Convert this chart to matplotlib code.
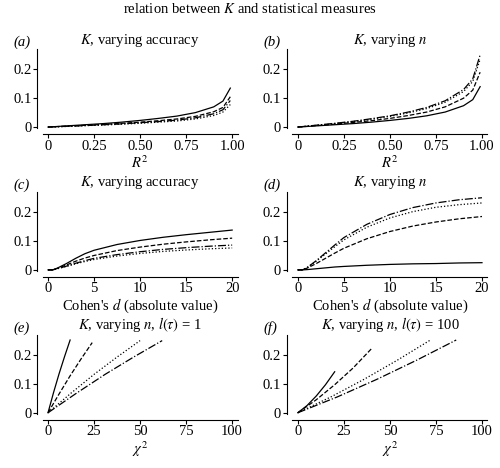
import numpy as np
import matplotlib.pyplot as plt

plt.rcParams['font.family'] = 'Liberation Serif'
plt.rcParams['mathtext.fontset'] = 'stix'
plt.rcParams['font.size'] = 10.5

styles = ['-', '--', ':', '-.']

# panel a: R^2, varying accuracy
r2 = [0, 0.1, 0.2, 0.3, 0.4, 0.5, 0.6, 0.7, 0.8, 0.9, 0.95, 0.99]
a_vals = [
    [0, 0.004, 0.008, 0.012, 0.017, 0.023, 0.030, 0.038, 0.050, 0.070, 0.090, 0.135],
    [0, 0.003, 0.006, 0.009, 0.013, 0.017, 0.022, 0.028, 0.037, 0.053, 0.068, 0.105],
    [0, 0.002, 0.005, 0.007, 0.010, 0.013, 0.017, 0.021, 0.028, 0.040, 0.052, 0.078],
    [0, 0.0025, 0.005, 0.008, 0.011, 0.015, 0.019, 0.024, 0.032, 0.046, 0.060, 0.092],
]
# panel b: R^2, varying n
b_vals = [
    [0, 0.004, 0.008, 0.012, 0.017, 0.023, 0.030, 0.039, 0.052, 0.074, 0.095, 0.140],
    [0, 0.005, 0.010, 0.016, 0.022, 0.030, 0.040, 0.052, 0.070, 0.100, 0.128, 0.190],
    [0, 0.006, 0.012, 0.019, 0.027, 0.037, 0.049, 0.064, 0.086, 0.123, 0.158, 0.235],
    [0, 0.0065, 0.013, 0.020, 0.029, 0.039, 0.052, 0.068, 0.091, 0.130, 0.167, 0.250],
]
# panels c, d: Cohen's d
cd = [0, 0.5, 1, 2, 3, 4, 5, 7.5, 10, 12.5, 15, 17.5, 20]
c_vals = [
    [0, 0, 0.006, 0.022, 0.040, 0.056, 0.068, 0.088, 0.102, 0.113, 0.122, 0.130, 0.138],
    [0, 0, 0.005, 0.017, 0.030, 0.041, 0.050, 0.067, 0.079, 0.089, 0.097, 0.104, 0.110],
    [0, 0, 0.004, 0.012, 0.021, 0.029, 0.036, 0.048, 0.057, 0.064, 0.069, 0.073, 0.076],
    [0, 0, 0.004, 0.013, 0.023, 0.032, 0.040, 0.053, 0.063, 0.071, 0.077, 0.082, 0.086],
]
d_vals = [
    [0, 0, 0.001, 0.004, 0.007, 0.010, 0.012, 0.016, 0.019, 0.021, 0.022, 0.024, 0.025],
    [0, 0, 0.006, 0.022, 0.040, 0.058, 0.075, 0.108, 0.133, 0.152, 0.166, 0.177, 0.185],
    [0, 0, 0.008, 0.030, 0.055, 0.080, 0.104, 0.148, 0.180, 0.202, 0.217, 0.226, 0.232],
    [0, 0, 0.008, 0.032, 0.059, 0.086, 0.112, 0.158, 0.192, 0.216, 0.232, 0.243, 0.250],
]
# panels e, f: chi^2
e_x = [[0, 3, 6, 9, 12], [0, 6, 12, 18, 24], [0, 12.5, 25, 37.5, 50], [0, 15.5, 31, 46.5, 62]]
e_y = [[0, 0.07, 0.135, 0.195, 0.252], [0, 0.065, 0.128, 0.187, 0.243],
       [0, 0.068, 0.133, 0.193, 0.250], [0, 0.068, 0.133, 0.193, 0.250]]
f_x = [[0, 5, 10, 15, 20], [0, 10, 20, 30, 40], [0, 18, 36, 54, 72], [0, 21.5, 43, 64.5, 86]]
f_y = [[0, 0.025, 0.058, 0.097, 0.142], [0, 0.045, 0.097, 0.155, 0.222],
       [0, 0.055, 0.116, 0.182, 0.252], [0, 0.055, 0.116, 0.182, 0.252]]

fig, axs = plt.subplots(3, 2, figsize=(5, 4.68), dpi=100)
fig.subplots_adjust(left=0.085, right=0.975, top=0.895, bottom=0.115, hspace=0.8, wspace=0.28)
fig.suptitle(r'relation between $K$ and statistical measures', y=0.995, fontsize=10.5)

panels = [
    ('a', r'$K$, varying accuracy', r'$R^2$', [r2] * 4, a_vals, [0, 0.25, 0.5, 0.75, 1.0], ['0', '0.25', '0.50', '0.75', '1.00']),
    ('b', r'$K$, varying $n$', r'$R^2$', [r2] * 4, b_vals, [0, 0.25, 0.5, 0.75, 1.0], ['0', '0.25', '0.50', '0.75', '1.00']),
    ('c', r'$K$, varying accuracy', "Cohen's $d$ (absolute value)", [cd] * 4, c_vals, [0, 5, 10, 15, 20], None),
    ('d', r'$K$, varying $n$', "Cohen's $d$ (absolute value)", [cd] * 4, d_vals, [0, 5, 10, 15, 20], None),
    ('e', r'$K$, varying $n$, $l(\tau)$ = 1', r'$\chi^2$', e_x, e_y, [0, 25, 50, 75, 100], None),
    ('f', r'$K$, varying $n$, $l(\tau)$ = 100', r'$\chi^2$', f_x, f_y, [0, 25, 50, 75, 100], None),
]

for ax, (lab, title, xlab, xs, ys, xt, xtl) in zip(axs.flat, panels):
    for x, y, ls in zip(xs, ys, styles):
        ax.plot(x, y, color='k', lw=0.9, linestyle=ls)
    ax.set_title(title, fontsize=10.5, pad=4)
    ax.text(-0.15, 1.04, '(' + lab + ')', transform=ax.transAxes, style='italic', fontsize=10.5)
    ax.set_xlabel(xlab, labelpad=1)
    ax.set_xticks(xt)
    if xtl:
        ax.set_xticklabels(xtl)
    ax.set_xlim(xt[0] - (xt[-1] - xt[0]) * 0.03, xt[-1] + (xt[-1] - xt[0]) * 0.03)
    ax.set_ylim(-0.005, 0.27)
    ax.set_yticks([0, 0.1, 0.2])
    ax.set_yticklabels(['0', '0.1', '0.2'])
    for s in ('top', 'right'):
        ax.spines[s].set_visible(False)
    ax.spines['left'].set_position(('outward', 4))
    ax.spines['bottom'].set_position(('outward', 4))
    ax.tick_params(length=3, pad=1)

plt.savefig('out.png', dpi=100)
